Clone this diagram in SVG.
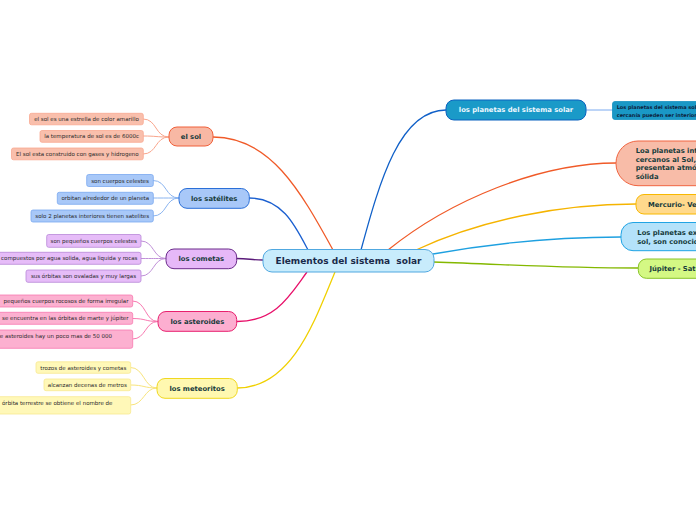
<svg xmlns="http://www.w3.org/2000/svg" width="696" height="520" viewBox="0 0 696 520">
<style>
text{font-family:"DejaVu Sans",Verdana,sans-serif}
.leaf{font-size:5.5px;fill:#2a2a2a;text-anchor:middle}
.leafE{font-size:5.5px;fill:#2a2a2a;text-anchor:end}
.main{font-size:6.8px;font-weight:bold;fill:#173c3c;text-anchor:middle}
.mainL{font-size:6.8px;font-weight:bold;fill:#173c3c}
.c{fill:none;stroke-width:1.3}
.l{fill:none;stroke-width:1}
</style>
<rect width="696" height="520" fill="#ffffff"/>
<g id="connectors">
<path class="c" stroke="#f05a28" d="M213,137 C270,137 300,190 333,250"/>
<path class="c" stroke="#1a5fd0" d="M249,198 C282,198 295,225 308,250"/>
<path class="c" stroke="#5a1a7a" d="M236,258.5 C250,258.5 250,260 263,260"/>
<path class="c" stroke="#e8106a" d="M237,321.5 C276,321.5 290,295 307,272"/>
<path class="c" stroke="#f0d000" d="M237,388 C292,388 315,320 335,272"/>
<path class="c" stroke="#1060c8" d="M361,250 C380,180 400,110 446,110"/>
<path class="c" stroke="#f05a28" d="M388,250 C450,200 540,163 616,163"/>
<path class="c" stroke="#f5b400" d="M416,250 C480,220 560,204 636,204"/>
<path class="c" stroke="#1ea0e0" d="M433,254 C500,242 560,237 621,237"/>
<path class="c" stroke="#84b800" d="M433,262 C520,265 560,268 638,268"/>
<path class="l" stroke="#7aaaf0" d="M586,110 L613,110"/>
<path class="l" stroke="#f9a58c" d="M169,137 C155,137 157,119 143,119"/>
<path class="l" stroke="#f9a58c" d="M169,137 C155,137 157,136 143,136"/>
<path class="l" stroke="#f9a58c" d="M169,137 C155,137 157,154 143,154"/>
<path class="l" stroke="#8ab4f0" d="M179,198 C165,198 167,180.5 153,180.5"/>
<path class="l" stroke="#8ab4f0" d="M179,198 C165,198 167,198 153,198"/>
<path class="l" stroke="#8ab4f0" d="M179,198 C165,198 167,216 153,216"/>
<path class="l" stroke="#c090d8" d="M166,258.5 C153,258.5 154,241 141,241"/>
<path class="l" stroke="#c090d8" d="M166,258.5 C153,258.5 154,258.5 141,258.5"/>
<path class="l" stroke="#c090d8" d="M166,258.5 C153,258.5 154,276 141,276"/>
<path class="l" stroke="#f878b0" d="M158,321.5 C145,321.5 146,301 132.5,301"/>
<path class="l" stroke="#f878b0" d="M158,321.5 C145,321.5 146,318.5 132.5,318.5"/>
<path class="l" stroke="#f878b0" d="M158,321.5 C145,321.5 146,339 132.5,339"/>
<path class="l" stroke="#f8e47c" d="M157,388 C144,388 144,367.5 130.5,367.5"/>
<path class="l" stroke="#f8e47c" d="M157,388 C144,388 144,385 130.5,385"/>
<path class="l" stroke="#f8e47c" d="M157,388 C144,388 144,405 130.5,405"/>
</g>
<g id="central">
<rect x="263" y="249.5" width="171" height="22.5" rx="9" fill="#c8ecfc" stroke="#50a8e0" stroke-width="1"/>
<text x="348.5" y="264" style="font-size:9px;font-weight:bold;fill:#1a2a4a;text-anchor:middle;white-space:pre">Elementos del sistema  solar</text>
</g>
<g id="el-sol">
<rect x="169" y="127" width="44" height="19" rx="8" fill="#f8b8a4" stroke="#f0603a" stroke-width="1"/>
<text class="main" x="191" y="138.8">el sol</text>
</g>
<g id="sol-1"><rect x="29.5" y="113.3" width="113.8" height="11.5" rx="2" fill="#f9bfac" stroke="#f9a890" stroke-width="0.8"/><text class="leaf" x="86.5" y="121">el sol es una estrella de color amarillo</text></g>
<g id="sol-2"><rect x="40" y="130.5" width="103.3" height="11.8" rx="2" fill="#f9bfac" stroke="#f9a890" stroke-width="0.8"/><text class="leaf" x="91.6" y="138.4">la temperatura de sol es de 6000c</text></g>
<g id="sol-3"><rect x="11.5" y="148" width="131.8" height="11.8" rx="2" fill="#f9bfac" stroke="#f9a890" stroke-width="0.8"/><text class="leaf" x="77.4" y="155.9">El sol esta construido con gases y hidrogeno</text></g>
<g id="satelites">
<rect x="179" y="188.5" width="70.3" height="19.8" rx="8" fill="#a8c8f8" stroke="#2a6fd8" stroke-width="1"/>
<text class="main" x="214.2" y="200.7">los satélites</text>
</g>
<g id="sat-1"><rect x="86.7" y="174.5" width="66.6" height="12" rx="2" fill="#a8c8f8" stroke="#7aa8f0" stroke-width="0.8"/><text class="leaf" x="120" y="182.5">son cuerpos celestes</text></g>
<g id="sat-2"><rect x="57.3" y="192.3" width="96" height="12" rx="2" fill="#a8c8f8" stroke="#7aa8f0" stroke-width="0.8"/><text class="leaf" x="105.3" y="200.3">orbitan alrededor de un planeta</text></g>
<g id="sat-3"><rect x="31" y="210" width="122.3" height="12" rx="2" fill="#a8c8f8" stroke="#7aa8f0" stroke-width="0.8"/><text class="leaf" x="92.2" y="218">solo 2 planetas interiores tienen satelites</text></g>
<g id="cometas">
<rect x="166" y="249" width="70.7" height="19.7" rx="8" fill="#e6b8f8" stroke="#6a2a8a" stroke-width="1"/>
<text class="main" x="201.3" y="261.2">los cometas</text>
</g>
<g id="com-1"><rect x="46.7" y="234.5" width="94.3" height="12.8" rx="2" fill="#e6bcf8" stroke="#b888d8" stroke-width="0.8"/><text class="leaf" x="93.8" y="242.9">son pequeños cuerpos celestes</text></g>
<g id="com-2"><rect x="-20" y="252.3" width="161" height="12" rx="2" fill="#e6bcf8" stroke="#b888d8" stroke-width="0.8"/><text class="leafE" x="137.5" y="260.3">compuestos por agua solida, agua liquida y rocas</text></g>
<g id="com-3"><rect x="26" y="270" width="115" height="12.3" rx="2" fill="#e6bcf8" stroke="#b888d8" stroke-width="0.8"/><text class="leaf" x="83.5" y="278.1">sus órbitas son ovaladas y muy largas</text></g>
<g id="asteroides">
<rect x="158" y="311.5" width="78.7" height="19.8" rx="8" fill="#fcaed0" stroke="#e8206e" stroke-width="1"/>
<text class="main" x="197.4" y="323.8">los asteroides</text>
</g>
<g id="ast-1"><rect x="-20" y="295" width="152.7" height="12" rx="2" fill="#fcb0d0" stroke="#f878b0" stroke-width="0.8"/><text class="leafE" x="128.5" y="303">pequeños cuerpos rocosos de forma irregular</text></g>
<g id="ast-2"><rect x="-20" y="312.3" width="152.7" height="12" rx="2" fill="#fcb0d0" stroke="#f878b0" stroke-width="0.8"/><text class="leafE" x="128.5" y="320.3">se encuentra en las órbitas de marte y júpiter</text></g>
<g id="ast-3"><rect x="-20" y="330" width="152.7" height="18.3" rx="2" fill="#fcb0d0" stroke="#f878b0" stroke-width="0.8"/><text class="leafE" x="112" y="338">e asteroides hay un poco mas de 50 000</text></g>
<g id="meteoritos">
<rect x="157" y="378.5" width="80.3" height="19.8" rx="8" fill="#fff8b0" stroke="#f0d820" stroke-width="1"/>
<text class="main" x="197.1" y="390.8">los meteoritos</text>
</g>
<g id="met-1"><rect x="36" y="361.8" width="94.7" height="11.5" rx="2" fill="#fff8b8" stroke="#f8e890" stroke-width="0.8"/><text class="leaf" x="83.3" y="369.5">trozos de asteroides y cometas</text></g>
<g id="met-2"><rect x="44" y="379" width="86.7" height="11.7" rx="2" fill="#fff8b8" stroke="#f8e890" stroke-width="0.8"/><text class="leaf" x="87.3" y="386.8">alcanzan decenas de metros</text></g>
<g id="met-3"><rect x="-20" y="396.7" width="150.7" height="17.3" rx="2" fill="#fff8b8" stroke="#f8e890" stroke-width="0.8"/><text class="leafE" x="112.5" y="405">órbita terrestre se obtiene el nombre de</text></g>
<g id="planetas">
<rect x="446" y="100" width="140" height="20" rx="8" fill="#1a9ac8" stroke="#0a62c0" stroke-width="1"/>
<text x="516" y="112.4" style="font-size:6.8px;font-weight:bold;fill:#eef8ff;text-anchor:middle">los planetas del sistema solar</text>
</g>
<g id="planetas-leaf">
<rect x="612.5" y="101.5" width="100" height="18" rx="2.5" fill="#1a98c6" stroke="#1690c0" stroke-width="0.8"/>
<text x="616.7" y="109" style="font-size:5px;font-weight:bold;fill:#0d2340">Los planetas del sistema sola</text>
<text x="616.7" y="116.5" style="font-size:5px;font-weight:bold;fill:#0d2340">cercanía pueden ser interiore</text>
</g>
<g id="interiores">
<rect x="616" y="141" width="120" height="44.7" rx="22" fill="#f8bca8" stroke="#f06440" stroke-width="1"/>
<text class="mainL" x="635.7" y="153.2">Loa planetas int</text>
<text class="mainL" x="635.7" y="161.8">cercanos al Sol,</text>
<text class="mainL" x="635.7" y="170.4">presentan atmó</text>
<text class="mainL" x="635.7" y="179">sólida</text>
</g>
<g id="mercurio">
<rect x="636" y="194.5" width="100" height="19.5" rx="8" fill="#ffd98c" stroke="#f8b800" stroke-width="1"/>
<text class="mainL" x="648" y="207.4">Mercurio- Ve</text>
</g>
<g id="exteriores">
<rect x="621" y="222.5" width="110" height="28.2" rx="12" fill="#b4e2fa" stroke="#20a4e4" stroke-width="1"/>
<text class="mainL" x="637.3" y="235">Los planetas ex</text>
<text class="mainL" x="637.3" y="243.5">sol, son conocid</text>
</g>
<g id="jupiter">
<rect x="638.3" y="259" width="100" height="19.3" rx="8" fill="#d4f884" stroke="#88c428" stroke-width="1"/>
<text class="mainL" x="649.5" y="270.7">Júpiter - Sat</text>
</g>
</svg>
